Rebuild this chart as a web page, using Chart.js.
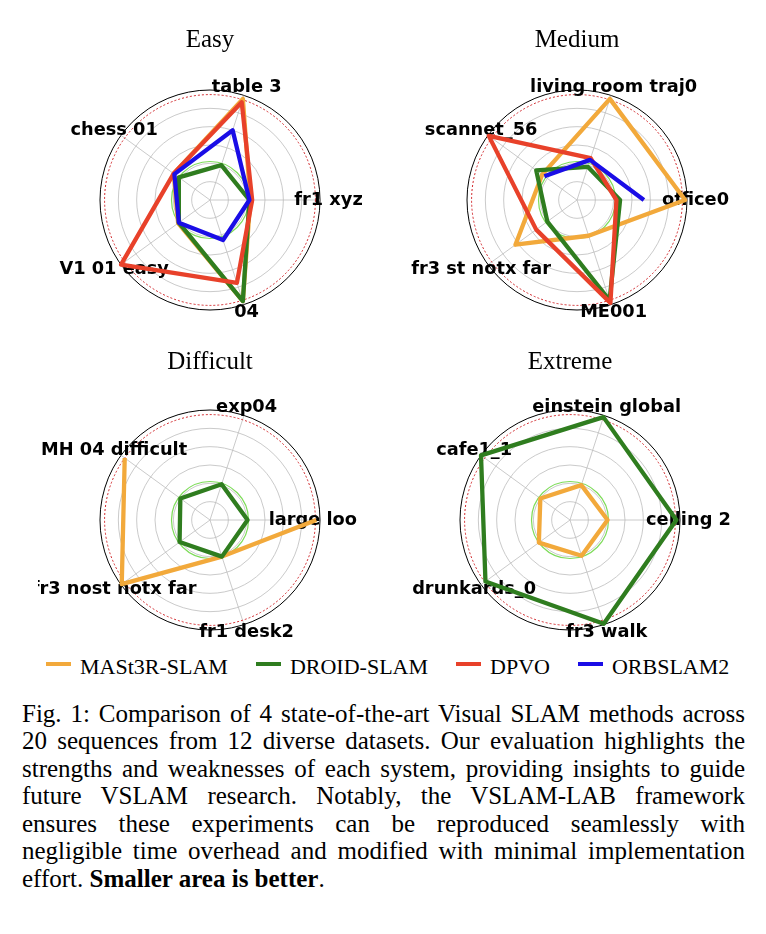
<!DOCTYPE html>
<html>
<head>
<meta charset="utf-8">
<script src="https://cdn.jsdelivr.net/npm/chart.js@4.4.1/dist/chart.umd.min.js"></script>
<style>
  body { margin: 0; background: #fff; width: 766px; height: 934px; position: relative; overflow: hidden; }
  canvas { position: absolute; }
  #legend { position: absolute; left: 46px; top: 655.6px; height: 22px; display: flex; align-items: center;
            font: 22px "Liberation Serif", serif; line-height: 22px; color: #000; white-space: nowrap; }
  .item { display: flex; align-items: center; margin-right: 28px; }
  .swatch { display: inline-block; width: 25px; height: 4px; margin-right: 9px; position: relative; top: -3px; }
  #caption { position: absolute; left: 22px; top: 699.5px; width: 723px; font: 25px "Liberation Serif", serif;
             line-height: 27.5px; color: #000; }
  #caption .ln { text-align: justify; text-align-last: justify; }
  #caption .last { text-align: left; }
</style>
</head>
<body>
<canvas id="easy" width="340" height="310" style="left:40px; top:20px"></canvas>
<canvas id="medium" width="360" height="310" style="left:400px; top:20px"></canvas>
<canvas id="difficult" width="320" height="302" style="left:38px; top:340px"></canvas>
<canvas id="extreme" width="340" height="302" style="left:400px; top:340px"></canvas>
<div id="legend"></div>
<div id="caption">
  <div class="ln">Fig. 1: Comparison of 4 state-of-the-art Visual SLAM methods across</div>
  <div class="ln">20 sequences from 12 diverse datasets. Our evaluation highlights the</div>
  <div class="ln">strengths and weaknesses of each system, providing insights to guide</div>
  <div class="ln">future VSLAM research. Notably, the VSLAM-LAB framework</div>
  <div class="ln">ensures these experiments can be reproduced seamlessly with</div>
  <div class="ln">negligible time overhead and modified with minimal implementation</div>
  <div class="last">effort. <b>Smaller area is better</b>.</div>
</div>
<script>
// methods, drawn bottom to top in this order
const methods = ["MASt3R-SLAM", "DROID-SLAM", "DPVO", "ORBSLAM2"];
const methodColors = ["#F2A93B", "#2F7D1F", "#E8412A", "#1A0DE6"];

// sequence labels, clockwise starting at the right
const easyLabels = ["fr1 xyz", "04", "V1 01 easy", "chess 01", "table 3"];
const mediumLabels = ["office0", "ME001", "fr3 st notx far", "scannet_56", "living room traj0"];
const difficultLabels = ["large loop 1", "fr1 desk2", "fr3 nost notx far", "MH 04 difficult", "exp04"];
const extremeLabels = ["ceiling 2", "fr3 walk", "drunkards_0", "cafe1_1", "einstein global"];

// normalised error per sequence (null = failed / not plotted)
const easyMast3r = [0.44, 1.16, 0.43, 0.49, 1.16];
const easyDroid = [0.43, 1.16, 0.42, 0.42, 0.40];
const easyDpvo = [0.46, 0.95, 1.20, 0.49, 1.12];
const easyOrb = [0.43, 0.46, 0.42, 0.48, 0.80];

const mediumMast3r = [1.18, 0.41, 0.83, 0.47, 1.16];
const mediumDroid = [0.47, 1.15, 0.40, 0.55, 0.38];
const mediumDpvo = [0.43, 1.18, 0.55, 1.19, 0.48];
const mediumOrb = [0.73, null, null, 0.44, 0.46];

const difficultMast3r = [1.16, 0.42, 1.19, 1.15, null];
const difficultDroid = [0.41, 0.42, 0.41, 0.40, 0.41];
const difficultDpvo = [null, null, null, null, null];
const difficultOrb = [null, null, null, null, null];

const extremeMast3r = [0.41, 0.41, 0.42, 0.40, 0.40];
const extremeDroid = [1.16, 1.19, 1.14, 1.20, 1.18];
const extremeDpvo = [null, null, null, null, null];
const extremeOrb = [null, null, null, null, null];

// reference rings
const baselineRing = 0.42;
const failRing = 1.15;
const axisMax = 1.2;

// draws the reference rings and the sequence names, under the lines
const radarExtras = {
    id: "radarExtras",
    beforeDatasetsDraw(chart) {
        const r = chart.scales.r;
        const ctx = chart.ctx;
        ctx.save();
        ctx.lineWidth = 1.2;
        ctx.strokeStyle = "#7EDC5A";
        ctx.beginPath();
        ctx.arc(r.xCenter, r.yCenter, r.getDistanceFromCenterForValue(baselineRing), 0, Math.PI * 2);
        ctx.stroke();

        ctx.lineWidth = 1;
        ctx.strokeStyle = "#D0262A";
        ctx.setLineDash([2, 2]);
        ctx.beginPath();
        ctx.arc(r.xCenter, r.yCenter, r.getDistanceFromCenterForValue(failRing), 0, Math.PI * 2);
        ctx.stroke();
        ctx.setLineDash([]);

        ctx.font = 'bold 17.8px "DejaVu Sans"';
        ctx.fillStyle = "#000";
        ctx.textAlign = "center";
        ctx.textBaseline = "middle";
        chart.data.labels.forEach((lab, i) => {
            const p = r.getPointPosition(i, r.drawingArea + 8.5);
            ctx.fillText(lab, p.x, p.y);
        });
        ctx.restore();
    }
};

function makeRadar(id, title, labels, series, padding, titlePad) {
    return new Chart(document.getElementById(id), {
        type: "radar",
        data: {
            labels: labels,
            datasets: series.map((vals, i) => ({
                label: methods[i],
                data: vals,
                borderColor: methodColors[i],
                backgroundColor: "transparent",
                borderWidth: 4.3,
                borderJoinStyle: "round",
                pointRadius: 0,
                pointHoverRadius: 0,
                fill: false,
                spanGaps: false,
                order: methods.length - i
            }))
        },
        options: {
            responsive: false,
            animation: false,
            devicePixelRatio: 1,
            layout: { padding: padding },
            plugins: {
                legend: { display: false },
                tooltip: { enabled: false },
                title: {
                    display: true,
                    text: title,
                    color: "#000",
                    font: { family: '"Liberation Serif"', size: 25, weight: "normal", lineHeight: 1.2 },
                    padding: titlePad
                }
            },
            scales: {
                r: {
                    min: 0,
                    max: axisMax,
                    startAngle: 90,
                    ticks: { display: false, stepSize: 0.2 },
                    pointLabels: { display: false },
                    grid: {
                        circular: true,
                        color: c => (c.tick && c.tick.value >= axisMax - 0.01) ? "#000" : "#BDBDBD",
                        lineWidth: c => (c.tick && c.tick.value >= axisMax - 0.01) ? 1 : 0.8
                    },
                    angleLines: { color: "#BDBDBD", lineWidth: 0.8 }
                }
            }
        },
        plugins: [radarExtras]
    });
}

makeRadar("easy", "Easy", easyLabels, [easyMast3r, easyDroid, easyDpvo, easyOrb],
    { left: 60, right: 60, top: 0, bottom: 20 }, { top: 5, bottom: 35 });
makeRadar("medium", "Medium", mediumLabels, [mediumMast3r, mediumDroid, mediumDpvo, mediumOrb],
    { left: 67, right: 73, top: 0, bottom: 20 }, { top: 5, bottom: 35 });
makeRadar("difficult", "Difficult", difficultLabels, [difficultMast3r, difficultDroid, difficultDpvo, difficultOrb],
    { left: 62, right: 38, top: 0, bottom: 12 }, { top: 7, bottom: 33 });
makeRadar("extreme", "Extreme", extremeLabels, [extremeMast3r, extremeDroid, extremeDpvo, extremeOrb],
    { left: 60, right: 60, top: 0, bottom: 12 }, { top: 7, bottom: 33 });

// shared legend under the four charts
const legend = document.getElementById("legend");
methods.forEach((name, i) => {
    const item = document.createElement("div");
    item.className = "item";
    item.innerHTML = `<span class="swatch" style="background:${methodColors[i]}"></span><span>${name}</span>`;
    legend.appendChild(item);
});
</script>
</body>
</html>
